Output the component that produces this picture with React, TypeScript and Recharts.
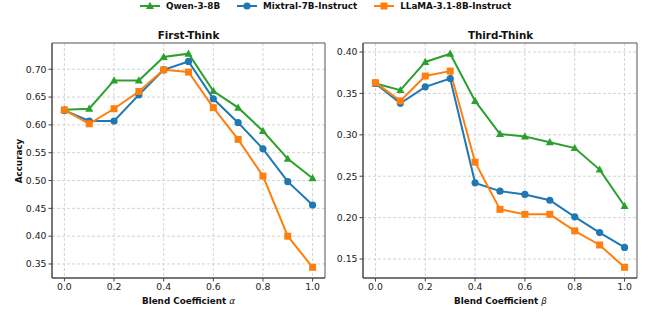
import { CartesianGrid, Line, LineChart, ReferenceArea, XAxis, YAxis } from 'recharts'

const blend = [0, 0.1, 0.2, 0.3, 0.4, 0.5, 0.6, 0.7, 0.8, 0.9, 1.0]
const xTicks = [0, 0.2, 0.4, 0.6, 0.8, 1.0]

const firstQwen = [0.627, 0.629, 0.68, 0.68, 0.722, 0.728, 0.661, 0.631, 0.589, 0.539, 0.504]
const firstMixtral = [0.626, 0.607, 0.607, 0.654, 0.699, 0.714, 0.647, 0.604, 0.557, 0.498, 0.456]
const firstLlama = [0.627, 0.602, 0.629, 0.66, 0.699, 0.695, 0.631, 0.574, 0.508, 0.4, 0.344]
const firstTicks = [0.35, 0.4, 0.45, 0.5, 0.55, 0.6, 0.65, 0.7]

const thirdQwen = [0.362, 0.354, 0.388, 0.398, 0.341, 0.301, 0.298, 0.291, 0.284, 0.258, 0.214]
const thirdMixtral = [0.362, 0.338, 0.358, 0.368, 0.242, 0.232, 0.228, 0.221, 0.201, 0.182, 0.164]
const thirdLlama = [0.363, 0.341, 0.371, 0.377, 0.267, 0.21, 0.204, 0.204, 0.184, 0.167, 0.14]
const thirdTicks = [0.15, 0.2, 0.25, 0.3, 0.35, 0.4]

const GREEN = '#2ca02c'
const BLUE = '#1f77b4'
const ORANGE = '#ff7f0e'
const FONT = '"DejaVu Sans", sans-serif'

const rows = (q: number[], m: number[], l: number[]) =>
  blend.map((x, i) => ({ x, qwen: q[i], mixtral: m[i], llama: l[i] }))

const firstData = rows(firstQwen, firstMixtral, firstLlama)
const thirdData = rows(thirdQwen, thirdMixtral, thirdLlama)

// padded like matplotlib's 5% autoscale margin
const pad = (vals: number[]): [number, number] => {
  const lo = Math.min(...vals)
  const hi = Math.max(...vals)
  const m = (hi - lo) * 0.05
  return [lo - m, hi + m]
}

const triangle = (color: string) => (p: any) => (
  <path
    key={`t-${p.index}`}
    d={`M${p.cx},${p.cy - 4.2} L${p.cx + 4},${p.cy + 3} L${p.cx - 4},${p.cy + 3} Z`}
    fill={color}
  />
)
const circle = (color: string) => (p: any) => <circle key={`c-${p.index}`} cx={p.cx} cy={p.cy} r={3.6} fill={color} />
const square = (color: string) => (p: any) => (
  <rect key={`s-${p.index}`} x={p.cx - 3.5} y={p.cy - 3.5} width={7} height={7} fill={color} />
)

const tickStyle = { fill: '#222', fontSize: 9.3, fontFamily: FONT }

function Panel({ data, domain, ticks, title, symbol, left, width, yLabel }: any) {
  return (
    <div style={{ position: 'absolute', left, top: 0, width, height: 312 }}>
      <LineChart width={width} height={312} data={data} margin={{ top: 43, right: 5, bottom: 0, left: 0 }}>
        <CartesianGrid stroke="#d4d4d4" strokeDasharray="3 2" horizontalValues={ticks} verticalValues={xTicks} />
        <XAxis
          dataKey="x"
          type="number"
          domain={[-0.05, 1.05]}
          ticks={xTicks}
          tickFormatter={(v: number) => v.toFixed(1)}
          tick={tickStyle}
          tickSize={3.5}
          tickMargin={2}
          height={34}
          stroke="#444"
          allowDataOverflow
        />
        <YAxis
          type="number"
          domain={domain}
          ticks={ticks}
          tickFormatter={(v: number) => v.toFixed(2)}
          tick={tickStyle}
          tickSize={3.5}
          tickMargin={2}
          width={width === 330 ? 52 : 42}
          stroke="#444"
          allowDataOverflow
        />
        <ReferenceArea x1={-0.05} x2={1.05} y1={domain[0]} y2={domain[1]} fill="none" stroke="#555" strokeWidth={1} ifOverflow="visible" />
        <Line dataKey="qwen" stroke={GREEN} strokeWidth={2} dot={triangle(GREEN)} activeDot={false} isAnimationActive={false} />
        <Line dataKey="mixtral" stroke={BLUE} strokeWidth={2} dot={circle(BLUE)} activeDot={false} isAnimationActive={false} />
        <Line dataKey="llama" stroke={ORANGE} strokeWidth={2} dot={square(ORANGE)} activeDot={false} isAnimationActive={false} />
      </LineChart>
      <div
        style={{
          position: 'absolute',
          left: width === 330 ? 52 : 42,
          width: width === 330 ? 273 : 275,
          top: 28,
          textAlign: 'center',
          fontWeight: 'bold',
          fontSize: 10.3,
          color: '#111',
          lineHeight: '14px',
        }}
      >
        {title}
      </div>
      <div
        style={{
          position: 'absolute',
          left: width === 330 ? 52 : 42,
          width: width === 330 ? 273 : 275,
          top: 295,
          textAlign: 'center',
          fontWeight: 'bold',
          fontSize: 8.8,
          color: '#111',
          lineHeight: '13px',
        }}
      >
        Blend Coefficient <span style={{ fontStyle: 'italic', fontWeight: 'normal' }}>{symbol}</span>
      </div>
      {yLabel && (
        <div
          style={{
            position: 'absolute',
            left: 19,
            top: 161,
            transform: 'translate(-50%, -50%) rotate(-90deg)',
            fontWeight: 'bold',
            fontSize: 8.8,
            color: '#111',
            whiteSpace: 'nowrap',
          }}
        >
          {yLabel}
        </div>
      )}
    </div>
  )
}

const legendItems = [
  { name: 'Qwen-3-8B', color: GREEN, kind: 'tri' },
  { name: 'Mixtral-7B-Instruct', color: BLUE, kind: 'circ' },
  { name: 'LLaMA-3.1-8B-Instruct', color: ORANGE, kind: 'sq' },
]

function LegendIcon({ color, kind }: { color: string; kind: string }) {
  return (
    <svg width={20} height={10} style={{ display: 'block' }}>
      <line x1={0} y1={5} x2={20} y2={5} stroke={color} strokeWidth={2} />
      {kind === 'tri' && <path d="M10,0.8 L14,8 L6,8 Z" fill={color} />}
      {kind === 'circ' && <circle cx={10} cy={5} r={3.6} fill={color} />}
      {kind === 'sq' && <rect x={6.5} y={1.5} width={7} height={7} fill={color} />}
    </svg>
  )
}

export default function App() {
  return (
    <div
      style={{
        position: 'absolute',
        left: 0,
        top: 0,
        width: 648,
        height: 312,
        background: '#fff',
        fontFamily: FONT,
        overflow: 'hidden',
      }}
    >
      <div style={{ position: 'absolute', left: 140, top: 0, display: 'flex', alignItems: 'center', gap: 17, height: 11 }}>
        {legendItems.map((it) => (
          <div key={it.name} style={{ display: 'flex', alignItems: 'center', gap: 6 }}>
            <LegendIcon color={it.color} kind={it.kind} />
            <span style={{ fontWeight: 'bold', fontSize: 8.8, color: '#111', whiteSpace: 'nowrap' }}>{it.name}</span>
          </div>
        ))}
      </div>
      <Panel
        data={firstData}
        domain={pad([...firstQwen, ...firstMixtral, ...firstLlama])}
        ticks={firstTicks}
        title="First-Think"
        symbol="α"
        left={0}
        width={330}
        yLabel="Accuracy"
      />
      <Panel
        data={thirdData}
        domain={pad([...thirdQwen, ...thirdMixtral, ...thirdLlama])}
        ticks={thirdTicks}
        title="Third-Think"
        symbol="β"
        left={321}
        width={321}
      />
    </div>
  )
}
